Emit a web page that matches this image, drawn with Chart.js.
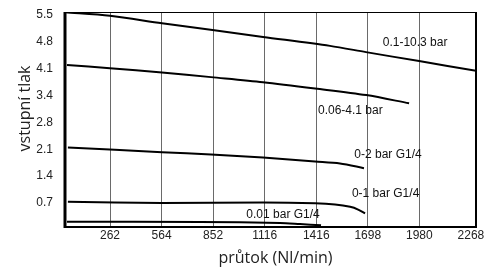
<!DOCTYPE html>
<html lang="cs">
<head>
<meta charset="UTF-8">
<title>vstupní tlak / průtok</title>
<script src="https://cdn.jsdelivr.net/npm/chart.js"></script>
<style>
    body { margin: 0; padding: 0; background: #fff; }
    .container { width: 501px; height: 269px; position: relative; }
</style>
</head>
<body>
<div class="container">
    <canvas id="myChart"></canvas>
</div>
<script>
// tick labels as printed on the chart (evenly spaced positions)
const xTickLabels = ['262', '564', '852', '1116', '1416', '1698', '1980', '2268'];
const yTickLabels = ['0.7', '1.4', '2.1', '2.8', '3.4', '4.1', '4.8', '5.5'];
const xStep = 2268 / 8;
const yStep = 5.5 / 8;

// curves: [flow Nl/min, pressure]
const curve103 = [[36, 5.57], [283, 5.48], [569, 5.29], [1125, 4.94], [1493, 4.71], [1691, 4.55], [1983, 4.32], [2296, 4.07]];
const curve41 = [[47, 4.22], [283, 4.14], [569, 4.03], [839, 3.91], [1125, 3.78], [1411, 3.62], [1692, 3.45], [1928, 3.24]];
const curve2 = [[52, 2.11], [569, 1.99], [839, 1.93], [1125, 1.85], [1411, 1.75], [1548, 1.70], [1680, 1.58]];
const curve1 = [[52, 0.72], [569, 0.69], [1125, 0.70], [1411, 0.68], [1521, 0.65], [1604, 0.59], [1648, 0.52], [1686, 0.42]];
const curve001 = [[47, 0.21], [778, 0.205], [1218, 0.177], [1328, 0.15], [1444, 0.118]];

const curveNames = ['0.1-10.3 bar', '0.06-4.1 bar', '0-2 bar G1/4', '0-1 bar G1/4', '0.01 bar G1/4'];
// where each name sits, in data units
const labelAnchors = [[1961, 4.78], [1605, 3.06], [1812, 1.92], [1799, 0.92], [1235, 0.38]];

const xTitle = 'průtok (Nl/min)';
const yTitle = 'vstupní tlak';

const toPoints = arr => arr.map(p => ({ x: p[0], y: p[1] }));

const datasets = [curve103, curve41, curve2, curve1, curve001].map((c, i) => ({
    label: curveNames[i],
    data: toPoints(c),
    borderColor: '#000',
    borderWidth: 2,
    pointRadius: 0,
    tension: 0.3,
    fill: false
}));

const curveLabels = {
    id: 'curveLabels',
    afterDatasetsDraw(chart) {
        const ctx = chart.ctx;
        const xs = chart.scales.x, ys = chart.scales.y;
        ctx.save();
        ctx.font = '12px "Liberation Sans", Arial, sans-serif';
        ctx.fillStyle = '#111';
        ctx.textAlign = 'center';
        ctx.textBaseline = 'middle';
        curveNames.forEach((name, i) => {
            const a = labelAnchors[i];
            ctx.fillText(name, xs.getPixelForValue(a[0]), ys.getPixelForValue(a[1]));
        });
        // axis titles
        const area = chart.chartArea;
        ctx.font = '16px "Open Sans", sans-serif';
        ctx.fillStyle = '#222';
        ctx.fillText(xTitle, (area.left + area.right) / 2 + 5, area.bottom + 31);
        ctx.translate(25, (area.top + area.bottom) / 2 - 11);
        ctx.rotate(-Math.PI / 2);
        ctx.fillText(yTitle, 0, 0);
        ctx.restore();
    }
};

const frame = {
    id: 'frame',
    afterDatasetsDraw(chart) {
        const { left, right, top, bottom } = chart.chartArea;
        const ctx = chart.ctx;
        ctx.save();
        ctx.strokeStyle = '#000';
        ctx.lineWidth = 1;
        ctx.beginPath(); ctx.moveTo(left, top + 0.5); ctx.lineTo(right, top + 0.5); ctx.stroke();
        ctx.lineWidth = 2;
        ctx.beginPath(); ctx.moveTo(right, top); ctx.lineTo(right, bottom); ctx.stroke();
        ctx.beginPath(); ctx.moveTo(left - 1, bottom); ctx.lineTo(right + 1, bottom); ctx.stroke();
        ctx.lineWidth = 3;
        ctx.beginPath(); ctx.moveTo(left, top); ctx.lineTo(left, bottom + 1); ctx.stroke();
        ctx.restore();
    }
};

new Chart(document.getElementById('myChart').getContext('2d'), {
    type: 'line',
    data: { datasets: datasets },
    options: {
        responsive: true,
        maintainAspectRatio: false,
        animation: false,
        layout: { padding: { top: 12, right: 25, left: 0, bottom: 0 } },
        plugins: { legend: { display: false }, tooltip: { enabled: false } },
        scales: {
            x: {
                type: 'linear',
                min: 36,
                max: 2296,
                afterBuildTicks: scale => {
                    scale.ticks = xTickLabels.map((t, i) => ({ value: (i + 1) * xStep }));
                },
                afterFit: scale => {
                    scale.height = 42;
                    scale.paddingLeft = 0;
                    scale.paddingRight = 0;
                },
                ticks: {
                    callback: (v, i) => xTickLabels[i],
                    font: { family: '"Liberation Sans", Arial, sans-serif', size: 12 },
                    color: '#222',
                    padding: 1,
                    maxRotation: 0,
                    autoSkip: false
                },
                grid: {
                    drawTicks: false,
                    color: c => (c.index === xTickLabels.length - 1 ? 'rgba(0,0,0,0)' : '#6a6a6a'),
                    lineWidth: 1
                },
                border: { display: false }
            },
            y: {
                type: 'linear',
                min: 0.074,
                max: 5.577,
                afterBuildTicks: scale => {
                    scale.ticks = yTickLabels.map((t, i) => ({ value: (i + 1) * yStep }));
                },
                afterFit: scale => {
                    scale.width = 65;
                    scale.paddingTop = 0;
                    scale.paddingBottom = 0;
                },
                ticks: {
                    callback: (v, i) => yTickLabels[i],
                    font: { family: '"Liberation Sans", Arial, sans-serif', size: 12 },
                    color: '#222',
                    padding: 12
                },
                grid: { display: false, drawTicks: false },
                border: { display: false }
            }
        }
    },
    plugins: [curveLabels, frame]
});
</script>
</body>
</html>
